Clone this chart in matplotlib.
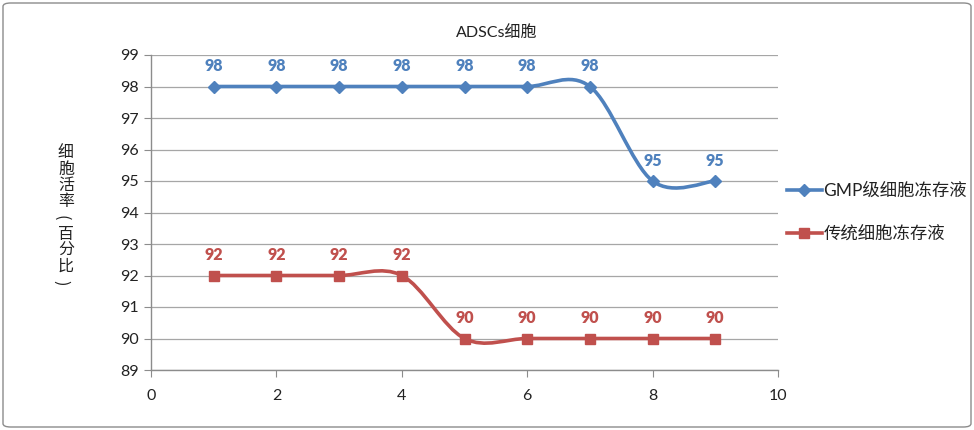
import matplotlib
matplotlib.use("Agg")
import matplotlib.pyplot as plt
from matplotlib.path import Path
from matplotlib.patches import PathPatch, FancyBboxPatch
from matplotlib.lines import Line2D
import numpy as np

plt.rcParams['font.family'] = ['Lato', 'Noto Sans CJK SC', 'DejaVu Sans']

x = [1, 2, 3, 4, 5, 6, 7, 8, 9]
gmp = [98, 98, 98, 98, 98, 98, 98, 95, 95]
trad = [92, 92, 92, 92, 90, 90, 90, 90, 90]
series_names = ["GMP级细胞冻存液", "传统细胞冻存液"]
title = "ADSCs细胞"
ylabel_chars = ["细", "胞", "活", "率", "(", "百", "分", "比", ")"]

blue = "#4F81BD"
red = "#C0504D"

fig = plt.figure(figsize=(9.74, 4.3), dpi=100)
ax = fig.add_axes([151/974, 1-370/430, (778-151)/974, (370-55)/430])

def smooth_path(xs, ys):
    pts = np.column_stack([xs, ys]).astype(float)
    n = len(pts)
    verts = [pts[0]]
    codes = [Path.MOVETO]
    for i in range(n - 1):
        p0 = pts[i - 1] if i > 0 else pts[i]
        p1 = pts[i]
        p2 = pts[i + 1]
        p3 = pts[i + 2] if i + 2 < n else pts[i + 1]
        c1 = p1 + (p2 - p0) / 6.0
        c2 = p2 - (p3 - p1) / 6.0
        verts += [c1, c2, p2]
        codes += [Path.CURVE4] * 3
    return Path(verts, codes)

for ys, col, mk, ms in [(gmp, blue, 'D', 6), (trad, red, 's', 7)]:
    ax.add_patch(PathPatch(smooth_path(x, ys), facecolor='none', edgecolor=col,
                           lw=2.6, capstyle='round', joinstyle='round', zorder=3))
    ax.plot(x, ys, linestyle='none', marker=mk, ms=ms, color=col, zorder=4)
    for xi, yi in zip(x, ys):
        ax.annotate(str(yi), (xi, yi), xytext=(0, 9), textcoords='offset points',
                    ha='center', va='bottom', color=col, fontsize=11.5,
                    fontweight='heavy', zorder=5)

ax.set_xlim(0, 10)
ax.set_ylim(89, 99)
ax.set_xticks(range(0, 11, 2))
ax.set_yticks(range(89, 100))
ax.grid(axis='y', color='#A6A6A6', lw=0.9)
ax.set_axisbelow(True)
for s in ['top', 'right']:
    ax.spines[s].set_visible(False)
for s in ['left', 'bottom']:
    ax.spines[s].set_color('#8C8C8C')
    ax.spines[s].set_linewidth(1.0)
ax.tick_params(direction='out', length=5, color='#8C8C8C', labelsize=11.5,
               labelcolor='#222222', pad=4)
ax.tick_params(axis='x', pad=9)

fig.text(497/974, 1-32/430, title, ha='center', va='center', fontsize=11.5, color='#222222')

# vertical y-axis label, one character per line; brackets rotated as in vertical writing
y0, step = 153, 16.2
for i, ch in enumerate(ylabel_chars):
    is_br = ch in ("(", ")")
    fig.text((66 - (5 if is_br else 0))/974, 1-(y0 + i*step)/430, ch,
             ha='center', va='center', fontsize=11.5, color='#222222',
             rotation=-90 if is_br else 0, rotation_mode='anchor',
             family=['Noto Sans CJK SC', 'DejaVu Sans'])

handles = [Line2D([], [], color=blue, lw=2.6, marker='D', ms=6),
           Line2D([], [], color=red, lw=2.6, marker='s', ms=7)]
fig.legend(handles, series_names, loc='upper left', bbox_to_anchor=(780/974, 1-176/430),
           frameon=False, fontsize=12.5, handlelength=2.0, handletextpad=0.1,
           labelspacing=1.55, borderaxespad=0, labelcolor='#222222')

fig.patches.append(FancyBboxPatch((3/974, 3/430), 968/974, 424/430,
                                  boxstyle="round,pad=0,rounding_size=0.008",
                                  transform=fig.transFigure, facecolor='none',
                                  edgecolor='#8C8C8C', lw=1.0))

fig.savefig("out.png", dpi=100)
